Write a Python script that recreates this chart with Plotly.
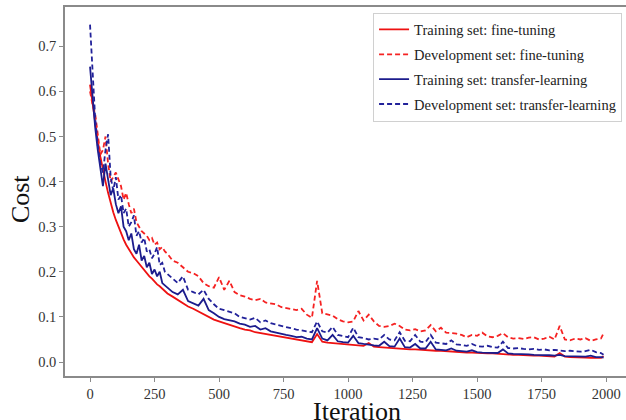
import plotly.graph_objects as go

# iteration grid: every 10 up to 300, then every 20, last logged at 1990
iters = list(range(0, 301, 10)) + list(range(320, 1981, 20)) + [1990]

train_fine = [
    0.615, 0.57, 0.53, 0.49, 0.455, 0.425, 0.40, 0.375, 0.352, 0.332,
    0.315, 0.30, 0.285, 0.272, 0.26, 0.25, 0.24, 0.232, 0.225, 0.218,
    0.21, 0.205, 0.198, 0.19, 0.185, 0.178, 0.172, 0.168, 0.162, 0.158,
    0.152,
    0.145, 0.138, 0.13, 0.123, 0.118, 0.112, 0.105, 0.1, 0.094, 0.09,
    0.086, 0.082, 0.079, 0.075, 0.072, 0.07, 0.066, 0.064, 0.062, 0.06,
    0.058, 0.056, 0.054, 0.052, 0.05, 0.049, 0.046, 0.044, 0.062, 0.045,
    0.043, 0.042, 0.041, 0.04, 0.039, 0.038, 0.037, 0.036, 0.042, 0.034,
    0.033, 0.032, 0.031, 0.031, 0.03, 0.029, 0.028, 0.028, 0.027, 0.026,
    0.026, 0.025, 0.025, 0.024, 0.023, 0.023, 0.022, 0.021, 0.021, 0.02,
    0.02, 0.019, 0.019, 0.018, 0.018, 0.017, 0.016, 0.016, 0.015, 0.015,
    0.014, 0.014, 0.013, 0.013, 0.012, 0.02, 0.012, 0.011, 0.011, 0.01,
    0.01, 0.009, 0.009, 0.009,
    0.013,
]

dev_fine = [
    0.60, 0.57, 0.55, 0.50, 0.46, 0.47, 0.50, 0.44, 0.40, 0.41,
    0.42, 0.405, 0.39, 0.36, 0.375, 0.35, 0.33, 0.34, 0.31, 0.30,
    0.29, 0.285, 0.28, 0.27, 0.275, 0.26, 0.265, 0.25, 0.255, 0.245,
    0.24,
    0.225, 0.22, 0.21, 0.20, 0.197, 0.19, 0.175, 0.168, 0.165, 0.188,
    0.16, 0.18, 0.155, 0.148, 0.145, 0.14, 0.137, 0.14, 0.132, 0.13,
    0.128, 0.122, 0.12, 0.118, 0.115, 0.118, 0.105, 0.098, 0.18, 0.108,
    0.105, 0.103, 0.095, 0.09, 0.088, 0.09, 0.113, 0.092, 0.105, 0.09,
    0.08, 0.078, 0.08, 0.085, 0.08, 0.072, 0.07, 0.073, 0.068, 0.07,
    0.082, 0.068, 0.076, 0.065, 0.064, 0.063, 0.06, 0.055, 0.06, 0.058,
    0.065, 0.057, 0.055, 0.058, 0.064, 0.055, 0.052, 0.053, 0.051, 0.054,
    0.055, 0.05, 0.052, 0.056, 0.05, 0.08, 0.05, 0.048, 0.052, 0.05,
    0.053, 0.047, 0.05, 0.052,
    0.064,
]

train_transfer = [
    0.655, 0.58, 0.52, 0.47, 0.43, 0.39, 0.44, 0.40, 0.37, 0.385,
    0.35, 0.33, 0.345, 0.30, 0.29, 0.27, 0.285, 0.25, 0.24, 0.26,
    0.225, 0.235, 0.21, 0.22, 0.195, 0.205, 0.19, 0.20, 0.175, 0.17,
    0.165,
    0.155, 0.15, 0.16, 0.135, 0.13, 0.125, 0.14, 0.115, 0.108, 0.10,
    0.095, 0.093, 0.09, 0.085, 0.083, 0.078, 0.08, 0.072, 0.075, 0.068,
    0.065, 0.063, 0.06, 0.058, 0.055, 0.056, 0.052, 0.05, 0.075, 0.052,
    0.048, 0.06, 0.046, 0.044, 0.043, 0.058, 0.042, 0.04, 0.038, 0.037,
    0.036, 0.045, 0.035, 0.034, 0.052, 0.033, 0.032, 0.04, 0.03, 0.03,
    0.045, 0.028, 0.027, 0.026, 0.03, 0.025, 0.024, 0.023, 0.026, 0.022,
    0.021, 0.021, 0.02, 0.02, 0.028, 0.019, 0.018, 0.018, 0.017, 0.017,
    0.016, 0.016, 0.015, 0.015, 0.014, 0.016, 0.013, 0.013, 0.012, 0.012,
    0.012, 0.014, 0.011, 0.011,
    0.01,
]

dev_transfer = [
    0.748, 0.63, 0.54, 0.48, 0.44, 0.42, 0.47, 0.505, 0.41, 0.38,
    0.41, 0.36, 0.37, 0.33, 0.34, 0.30, 0.31, 0.325, 0.28, 0.29,
    0.265, 0.275, 0.245, 0.25, 0.23, 0.24, 0.255, 0.215, 0.22, 0.20,
    0.195,
    0.185, 0.175, 0.19, 0.16, 0.155, 0.15, 0.16, 0.14, 0.128, 0.118,
    0.115, 0.112, 0.108, 0.10, 0.097, 0.094, 0.098, 0.088, 0.092, 0.086,
    0.083, 0.08, 0.078, 0.075, 0.072, 0.07, 0.068, 0.066, 0.09, 0.068,
    0.065, 0.078, 0.06, 0.057, 0.055, 0.076, 0.055, 0.053, 0.05, 0.052,
    0.05, 0.06, 0.05, 0.048, 0.066, 0.047, 0.046, 0.06, 0.045, 0.044,
    0.06, 0.043, 0.042, 0.04, 0.048, 0.039, 0.038, 0.036, 0.04, 0.035,
    0.034, 0.036, 0.033, 0.032, 0.045, 0.031, 0.03, 0.031, 0.029, 0.028,
    0.029, 0.027, 0.028, 0.026, 0.027, 0.025, 0.024, 0.025, 0.024, 0.023,
    0.024, 0.027, 0.022, 0.02,
    0.016,
]

names = [
    "Training set: fine-tuning",
    "Development set: fine-tuning",
    "Training set: transfer-learning",
    "Development set: transfer-learning",
]
series = [train_fine, dev_fine, train_transfer, dev_transfer]
colors = ["#ee1111", "#f52222", "#1c1c8c", "#22229a"]
dashes = ["solid", "5px,3px", "solid", "5px,3px"]

FONT = "Liberation Serif, DejaVu Serif, serif"

fig = go.Figure()
for i, (name, ys) in enumerate(zip(names, series)):
    fig.add_trace(go.Scatter(
        x=iters, y=ys, mode="lines", name=name,
        legendgroup="g%d" % i,
        line=dict(color=colors[i], width=1.8, dash=dashes[i]),
    ))

axis_style = dict(
    showline=True, linecolor="#8a8a8a", linewidth=1.5,
    ticks="outside", ticklen=4, tickwidth=1, tickcolor="#8a8a8a",
    showgrid=False, zeroline=False,
    tickfont=dict(family=FONT, size=14.5, color="#333333"),
)

fig.update_xaxes(range=[-97, 2077], tickvals=[0, 250, 500, 750, 1000, 1250, 1500, 1750, 2000],
                 mirror=True, **axis_style)
fig.update_yaxes(range=[-0.031, 0.787], tickvals=[0, 0.1, 0.2, 0.3, 0.4, 0.5, 0.6, 0.7],
                 tickformat=".1f", **axis_style)

fig.update_layout(
    width=626, height=420,
    margin=dict(l=65, r=0, t=7, b=44),
    plot_bgcolor="white", paper_bgcolor="white",
    font=dict(family=FONT, color="#222222"),
    legend=dict(
        x=0.993, y=0.985, xanchor="right", yanchor="top",
        bgcolor="white", bordercolor="#d0d0d0", borderwidth=1,
        font=dict(family=FONT, size=14.5, color="#222222"),
        tracegroupgap=3, traceorder="grouped",
    ),
    annotations=[
        dict(text="Iteration", xref="paper", yref="paper", x=0.52, y=-0.096,
             xanchor="center", yanchor="middle", showarrow=False,
             font=dict(family=FONT, size=26, color="#111111")),
        dict(text="Cost", xref="paper", yref="paper", x=-0.078, y=0.48,
             xanchor="center", yanchor="middle", showarrow=False, textangle=-90,
             font=dict(family=FONT, size=26, color="#111111")),
    ],
)

# drop the default body margin so the figure sits at the page corner
fig.write_html("out.html", config={"displayModeBar": False},
               post_script="document.body.style.margin='0px';")
